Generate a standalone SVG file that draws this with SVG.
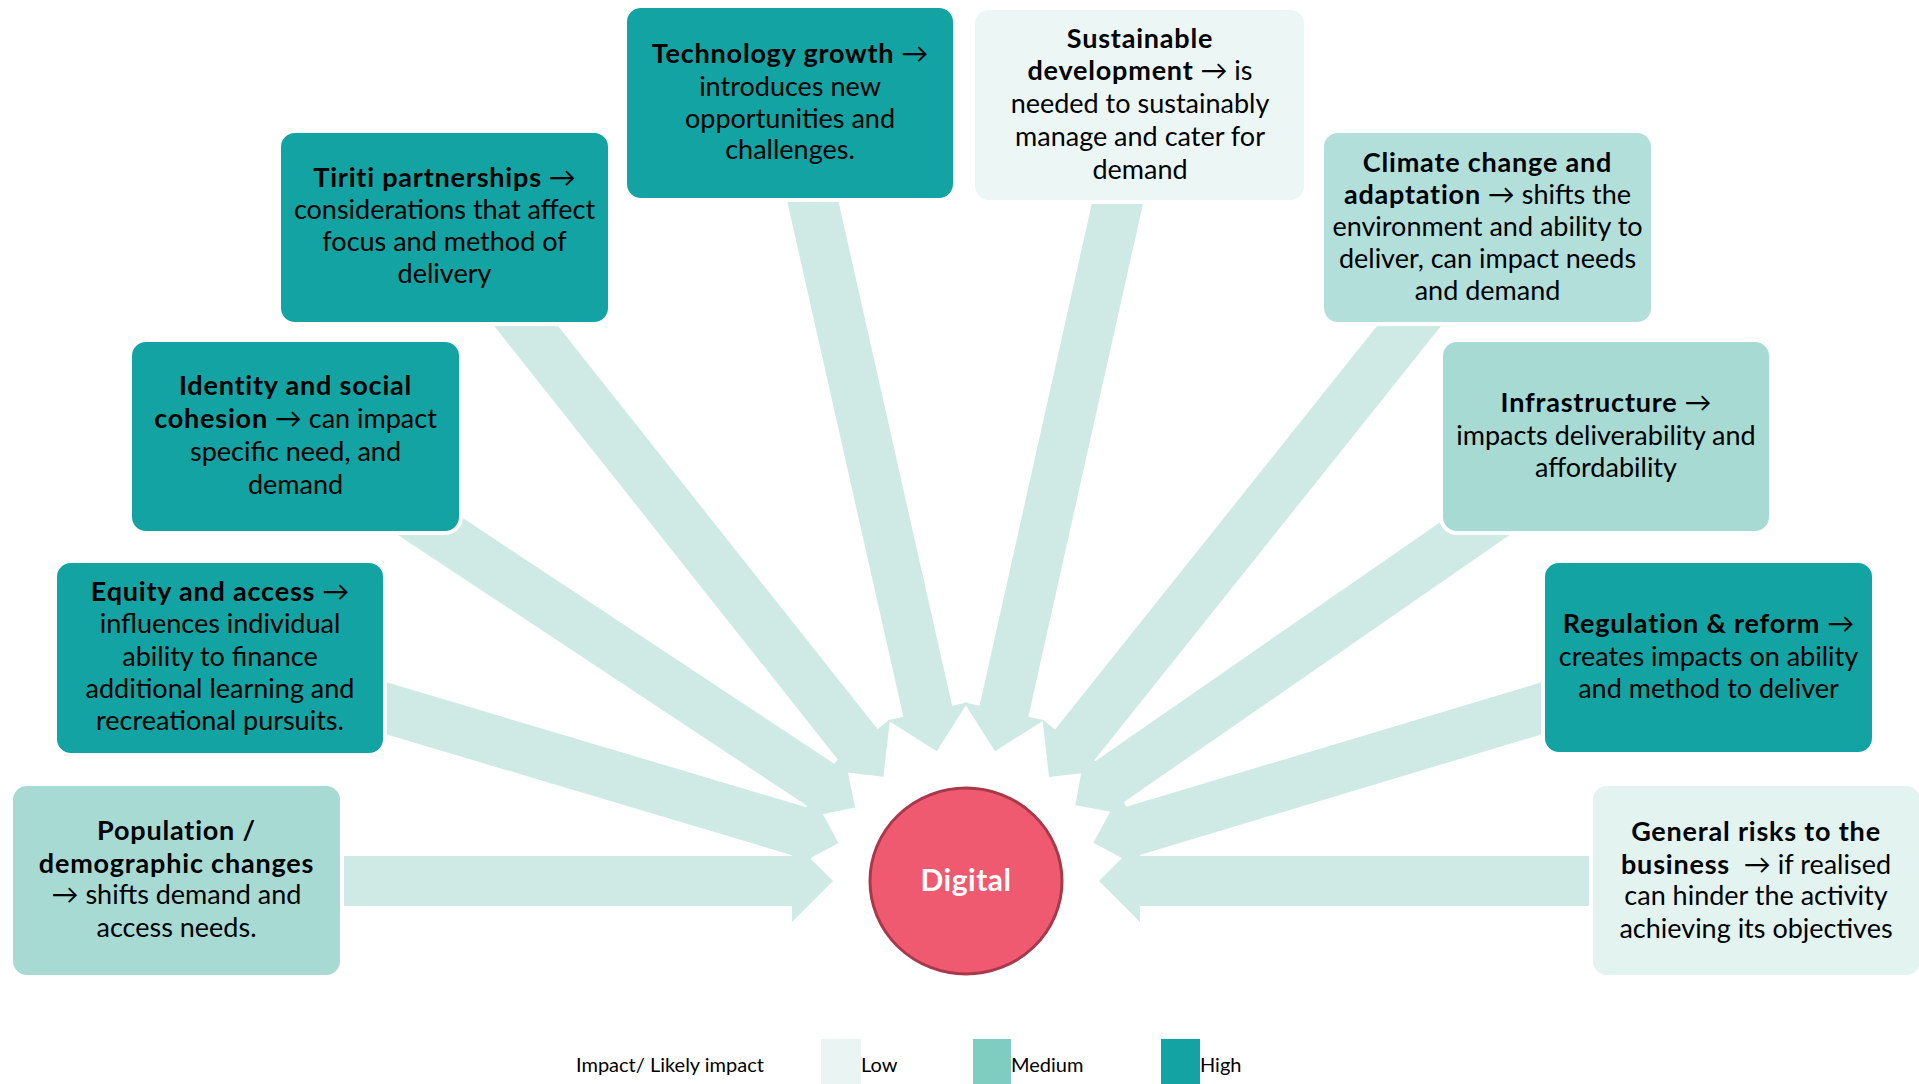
<svg xmlns="http://www.w3.org/2000/svg" width="1919" height="1084" viewBox="0 0 1919 1084">
<style>
  .hi{fill:#13A3A3}
  .med{fill:#A7DAD3}
  .med2{fill:#B2DFDA}
  .low{fill:#ECF6F4}
  .low2{fill:#E3F3F0}
  .box{stroke:#FFFFFF;stroke-width:4}
  .arrow{fill:#CFEAE4}
  text{font-family:Lato,"Noto Sans","Liberation Sans",sans-serif;font-size:27px;fill:#000000;text-anchor:middle}
  .b{font-weight:700;letter-spacing:0.8px}
  .leg{font-size:20px;text-anchor:start}
  .hub{font-weight:700;fill:#FFFFFF;font-size:30px;letter-spacing:0.5px}
</style>
<rect width="1919" height="1084" fill="#FFFFFF"/>
<g id="connectors">
  <path id="a-population" class="arrow" transform="translate(966,881) rotate(0)" d="M-630,-25 L-174,-25 L-174,-41 L-133,0 L-174,41 L-174,25 L-630,25 Z"/>
  <path id="a-equity" class="arrow" transform="translate(966,881) rotate(16.6)" d="M-625,-25 L-174,-25 L-174,-41 L-133,0 L-174,41 L-174,25 L-625,25 Z"/>
  <path id="a-identity" class="arrow" transform="translate(966,881) rotate(33.5)" d="M-675,-25 L-174,-25 L-174,-41 L-133,0 L-174,41 L-174,25 L-675,25 Z"/>
  <path id="a-tiriti" class="arrow" transform="translate(966,881) rotate(51.6)" d="M-740,-25 L-174,-25 L-174,-41 L-133,0 L-174,41 L-174,25 L-740,25 Z"/>
  <path id="a-tech" class="arrow" transform="translate(966,881) rotate(77.3)" d="M-708,-25 L-174,-25 L-174,-41 L-133,0 L-174,41 L-174,25 L-708,25 Z"/>
  <path id="a-sustainable" class="arrow" transform="translate(966,881) rotate(102.6)" d="M-708,-25 L-174,-25 L-174,-41 L-133,0 L-174,41 L-174,25 L-708,25 Z"/>
  <path id="a-climate" class="arrow" transform="translate(966,881) rotate(128.6)" d="M-740,-25 L-174,-25 L-174,-41 L-133,0 L-174,41 L-174,25 L-740,25 Z"/>
  <path id="a-infrastructure" class="arrow" transform="translate(966,881) rotate(145.3)" d="M-658,-25 L-174,-25 L-174,-41 L-133,0 L-174,41 L-174,25 L-658,25 Z"/>
  <path id="a-regulation" class="arrow" transform="translate(966,881) rotate(163.3)" d="M-625,-25 L-174,-25 L-174,-41 L-133,0 L-174,41 L-174,25 L-625,25 Z"/>
  <path id="a-general" class="arrow" transform="translate(966,881) rotate(180)" d="M-632,-25 L-174,-25 L-174,-41 L-133,0 L-174,41 L-174,25 L-632,25 Z"/>
</g>

<g id="node-tech">
  <rect class="box hi" x="625" y="6" width="330" height="194" rx="16"/>
  <text x="790" y="63"><tspan class="b">Technology growth</tspan> →</text>
  <text x="790" y="96">introduces new</text>
  <text x="790" y="128">opportunities and</text>
  <text x="790" y="159">challenges.</text>
</g>

<g id="node-sustainable">
  <rect class="box low" x="973" y="8" width="333" height="194" rx="16"/>
  <text x="1140" y="48" class="b">Sustainable</text>
  <text x="1140" y="80"><tspan class="b">development</tspan> → is</text>
  <text x="1140" y="113">needed to sustainably</text>
  <text x="1140" y="146">manage and cater for</text>
  <text x="1140" y="179">demand</text>
</g>

<g id="node-tiriti">
  <rect class="box hi" x="279" y="131" width="331" height="193" rx="16"/>
  <text x="444.5" y="187"><tspan class="b">Tiriti partnerships</tspan> →</text>
  <text x="444.5" y="219">considerations that affect</text>
  <text x="444.5" y="251">focus and method of</text>
  <text x="444.5" y="283">delivery</text>
</g>

<g id="node-climate">
  <rect class="box med2" x="1322" y="131" width="331" height="193" rx="16"/>
  <text x="1487.5" y="172" class="b">Climate change and</text>
  <text x="1487.5" y="204"><tspan class="b">adaptation</tspan> → shifts the</text>
  <text x="1487.5" y="236">environment and ability to</text>
  <text x="1487.5" y="268">deliver, can impact needs</text>
  <text x="1487.5" y="300">and demand</text>
</g>

<g id="node-identity">
  <rect class="box hi" x="130" y="340" width="331" height="193" rx="16"/>
  <text x="295.5" y="395" class="b">Identity and social</text>
  <text x="295.5" y="428"><tspan class="b">cohesion</tspan> → can impact</text>
  <text x="295.5" y="461">specific need, and</text>
  <text x="295.5" y="494">demand</text>
</g>

<g id="node-infrastructure">
  <rect class="box med" x="1441" y="340" width="330" height="193" rx="16"/>
  <text x="1606" y="412"><tspan class="b">Infrastructure</tspan> →</text>
  <text x="1606" y="445">impacts deliverability and</text>
  <text x="1606" y="477">affordability</text>
</g>

<g id="node-equity">
  <rect class="box hi" x="55" y="561" width="330" height="194" rx="16"/>
  <text x="220" y="601"><tspan class="b">Equity and access</tspan> →</text>
  <text x="220" y="633">influences individual</text>
  <text x="220" y="666">ability to finance</text>
  <text x="220" y="698">additional learning and</text>
  <text x="220" y="730">recreational pursuits.</text>
</g>

<g id="node-regulation">
  <rect class="box hi" x="1543" y="561" width="331" height="193" rx="16"/>
  <text x="1708.5" y="633"><tspan class="b">Regulation &amp; reform</tspan> →</text>
  <text x="1708.5" y="666">creates impacts on ability</text>
  <text x="1708.5" y="698">and method to deliver</text>
</g>

<g id="node-population">
  <rect class="box med" x="11" y="784" width="331" height="193" rx="16"/>
  <text x="176.5" y="840" class="b">Population /</text>
  <text x="176.5" y="873" class="b">demographic changes</text>
  <text x="176.5" y="904">→ shifts demand and</text>
  <text x="176.5" y="937">access needs.</text>
</g>

<g id="node-general">
  <rect class="box low2" x="1591" y="784" width="331" height="193" rx="16"/>
  <text x="1756" y="841" class="b">General risks to the</text>
  <text x="1756" y="874"><tspan class="b">business</tspan>&#160; → if realised</text>
  <text x="1756" y="905">can hinder the activity</text>
  <text x="1756" y="938">achieving its objectives</text>
</g>

<g id="node-digital">
  <ellipse cx="966" cy="881" rx="96" ry="93" fill="#F05A70" stroke="#A8394A" stroke-width="3"/>
  <text x="966" y="891" class="hub">Digital</text>
</g>

<g id="legend">
  <text x="576" y="1072" class="leg">Impact/ Likely impact</text>
  <rect x="821" y="1039" width="40" height="45" fill="#EAF5F3"/>
  <text x="861" y="1072" class="leg">Low</text>
  <rect x="973" y="1039" width="38" height="45" fill="#7FCDC0"/>
  <text x="1011" y="1072" class="leg">Medium</text>
  <rect x="1161" y="1039" width="39" height="45" fill="#14A3A3"/>
  <text x="1200" y="1072" class="leg">High</text>
</g>
</svg>
